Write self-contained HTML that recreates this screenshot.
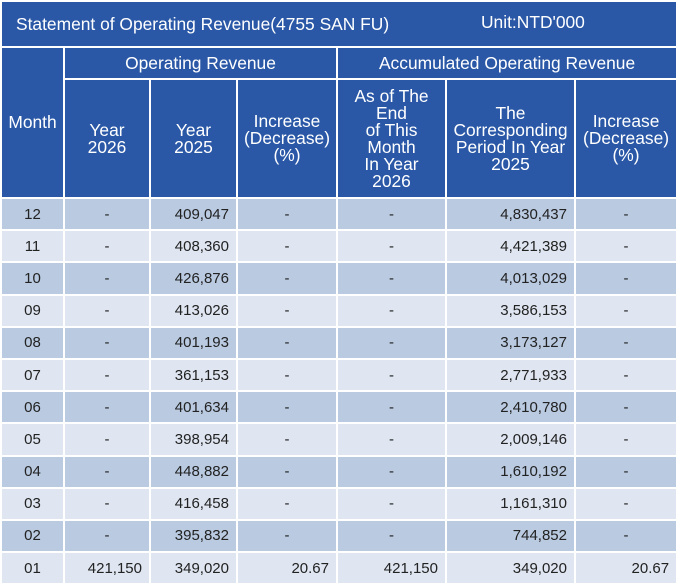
<!DOCTYPE html>
<html><head><meta charset="utf-8"><style>
html,body{margin:0;padding:0;background:#fff;width:678px;height:584px;overflow:hidden}
table{border-collapse:separate;border-spacing:2px;table-layout:fixed;width:678px;margin:0;font-family:"Liberation Sans",Arial,sans-serif;font-size:15px;position:absolute;left:0;top:0}
td,th{padding:0;overflow:hidden}
th{background:#2a58a6;color:#fff;font-weight:normal;font-size:17.4px;line-height:17px;text-align:center}
.t{text-align:left;padding-left:14px;height:44px;font-size:17.4px}
td{height:30.2px;color:#222;text-align:center}
td.n{text-align:right;padding-right:7px}
tr.a td{background:#b9cae1}
tr.b td{background:#dfe6f1}
</style></head><body>
<table>
<colgroup><col style="width:61px"><col style="width:84px"><col style="width:85px"><col style="width:98px"><col style="width:107px"><col style="width:127px"><col style="width:100px"></colgroup>
<tr><th colspan="7" class="t">Statement of Operating Revenue(4755 SAN FU)<span style="position:absolute;left:481px;top:14px">Unit:NTD'000</span></th></tr>
<tr><th rowspan="2">Month</th><th colspan="3" style="height:30px">Operating Revenue</th><th colspan="3">Accumulated Operating Revenue</th></tr>
<tr><th style="height:117px">Year<br>2026</th><th>Year<br>2025</th><th>Increase<br>(Decrease)<br>(%)</th><th>As of The<br>End<br>of This<br>Month<br>In Year<br>2026</th><th>The<br>Corresponding<br>Period In Year<br>2025</th><th>Increase<br>(Decrease)<br>(%)</th></tr>
<tr class="a"><td>12</td><td>-</td><td class="n">409,047</td><td>-</td><td>-</td><td class="n">4,830,437</td><td>-</td></tr>
<tr class="b"><td>11</td><td>-</td><td class="n">408,360</td><td>-</td><td>-</td><td class="n">4,421,389</td><td>-</td></tr>
<tr class="a"><td>10</td><td>-</td><td class="n">426,876</td><td>-</td><td>-</td><td class="n">4,013,029</td><td>-</td></tr>
<tr class="b"><td>09</td><td>-</td><td class="n">413,026</td><td>-</td><td>-</td><td class="n">3,586,153</td><td>-</td></tr>
<tr class="a"><td>08</td><td>-</td><td class="n">401,193</td><td>-</td><td>-</td><td class="n">3,173,127</td><td>-</td></tr>
<tr class="b"><td>07</td><td>-</td><td class="n">361,153</td><td>-</td><td>-</td><td class="n">2,771,933</td><td>-</td></tr>
<tr class="a"><td>06</td><td>-</td><td class="n">401,634</td><td>-</td><td>-</td><td class="n">2,410,780</td><td>-</td></tr>
<tr class="b"><td>05</td><td>-</td><td class="n">398,954</td><td>-</td><td>-</td><td class="n">2,009,146</td><td>-</td></tr>
<tr class="a"><td>04</td><td>-</td><td class="n">448,882</td><td>-</td><td>-</td><td class="n">1,610,192</td><td>-</td></tr>
<tr class="b"><td>03</td><td>-</td><td class="n">416,458</td><td>-</td><td>-</td><td class="n">1,161,310</td><td>-</td></tr>
<tr class="a"><td>02</td><td>-</td><td class="n">395,832</td><td>-</td><td>-</td><td class="n">744,852</td><td>-</td></tr>
<tr class="b"><td>01</td><td class="n">421,150</td><td class="n">349,020</td><td class="n">20.67</td><td class="n">421,150</td><td class="n">349,020</td><td class="n">20.67</td></tr>
</table>
</body></html>
